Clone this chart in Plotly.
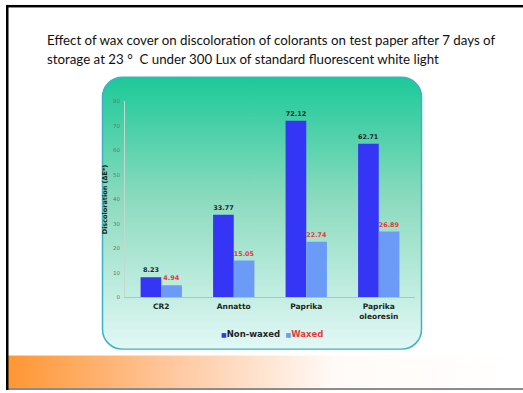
import base64
import plotly.graph_objects as go

# Colorant categories and discoloration values (ΔE*)
categories = ["CR2", "Annatto", "Paprika", "Paprika<br>oleoresin"]
non_waxed = [8.23, 33.77, 72.12, 62.71]
waxed = [4.94, 15.05, 22.74, 26.89]
y_ticks = [0, 10, 20, 30, 40, 50, 60, 70, 80]
heading = [
    "Effect of wax cover on discoloration of colorants on test paper after 7 days of",
    "storage at 23 °  C under 300 Lux of standard fluorescent white light",
]

W, H = 523, 393
CHART_FONT = "DejaVu Sans"

# Slide backdrop: frame lines, orange footer band, rounded gradient panel
svg = f"""<svg xmlns='http://www.w3.org/2000/svg' width='{W}' height='{H}' viewBox='0 0 {W} {H}'>
<defs>
<linearGradient id='panel' x1='0' y1='0' x2='0' y2='1'>
<stop offset='0' stop-color='#1cc998'/>
<stop offset='0.45' stop-color='#8cdbbf'/>
<stop offset='1' stop-color='#e2f8f5'/>
</linearGradient>
<linearGradient id='band' x1='0' y1='0' x2='1' y2='0'>
<stop offset='0' stop-color='#ff9633'/>
<stop offset='0.33' stop-color='#ffc9a2'/>
<stop offset='0.63' stop-color='#fffaf7'/>
<stop offset='1' stop-color='#ffffff'/>
</linearGradient>
</defs>
<rect x='0' y='0' width='{W}' height='{H}' fill='#ffffff'/>
<rect x='8' y='358' width='{W-8}' height='33' fill='url(#band)'/>
<rect x='6' y='391' width='{W-6}' height='2' fill='#8a8a8a'/>
<rect x='6' y='2' width='{W-6}' height='2.5' fill='#000000'/>
<rect x='6' y='2' width='2.5' height='{H-2}' fill='#000000'/>
<rect x='102.5' y='75.5' width='319' height='276' rx='20' ry='20' fill='url(#panel)' stroke='#3fb0c6' stroke-width='1.5'/>
</svg>"""
bg_src = "data:image/svg+xml;base64," + base64.b64encode(svg.encode()).decode()

fig = go.Figure()

fig.add_trace(go.Bar(
    x=categories, y=non_waxed, name="Non-waxed",
    marker=dict(color="#3535f5", line=dict(width=0)),
    texttemplate="%{y:.2f}", textposition="outside",
    textfont=dict(family=CHART_FONT, size=6.5, color="#1d2b2b", weight="bold"),
    cliponaxis=False, showlegend=False,
))
fig.add_trace(go.Bar(
    x=categories, y=waxed, name="Waxed",
    marker=dict(color="#6b9bf7", line=dict(width=0)),
    texttemplate="%{y:.2f}", textposition="outside",
    textfont=dict(family=CHART_FONT, size=6.5, color="#e8383a", weight="bold"),
    cliponaxis=False, showlegend=False,
))

x0, x1 = 125 / W, 415 / W
y0, y1 = 1 - 299 / H, 1 - 100 / H

fig.update_layout(
    width=W, height=H,
    margin=dict(l=0, r=0, t=0, b=0),
    paper_bgcolor="rgba(0,0,0,0)",
    plot_bgcolor="rgba(0,0,0,0)",
    barmode="group", bargap=0.43, bargroupgap=0,
    images=[dict(source=bg_src, xref="paper", yref="paper", x=0, y=1,
                 sizex=1, sizey=1, xanchor="left", yanchor="top",
                 sizing="stretch", layer="below")],
    xaxis=dict(
        domain=[x0, x1], showgrid=False, zeroline=False,
        showline=True, linecolor="#a9c7bd", linewidth=1,
        ticks="", tickfont=dict(family=CHART_FONT, size=7.5, color="#1e2424", weight="bold"),
        ticklabelstandoff=2,
    ),
    yaxis=dict(
        domain=[y0, y1], range=[0, 80], tickvals=y_ticks,
        showgrid=False, zeroline=False,
        showline=True, linecolor="#bcdccf", linewidth=1,
        ticks="", tickfont=dict(family=CHART_FONT, size=5.5, color="#5d7d70"),
        ticklabelstandoff=3,
        title=dict(text="Discoloration (ΔE*)", standoff=4,
                   font=dict(family=CHART_FONT, size=6.5, color="#1e2424", weight="bold")),
    ),
    font=dict(family=CHART_FONT),
)

# Slide heading, one annotation per line
for line, ypx in zip(heading, [38, 57]):
    fig.add_annotation(
        xref="paper", yref="paper", x=45 / W, y=1 - ypx / H,
        xanchor="left", yanchor="middle", align="left", showarrow=False,
        text=line, font=dict(family="Lato", size=13.3, color="#111111"),
    )

# Series key under the categories
fig.add_annotation(
    xref="paper", yref="paper", x=272 / W, y=1 - 336 / H,
    xanchor="center", yanchor="middle", showarrow=False,
    text=("<span style='color:#3535f5;font-size:6px'>■</span><b>Non-waxed</b>  "
          "<span style='color:#6b9bf7;font-size:6px'>■</span><b><span style='color:#e8383a'>Waxed</span></b>"),
    font=dict(family=CHART_FONT, size=8.5, color="#1e2424"),
)

fig.write_html("out.html")
